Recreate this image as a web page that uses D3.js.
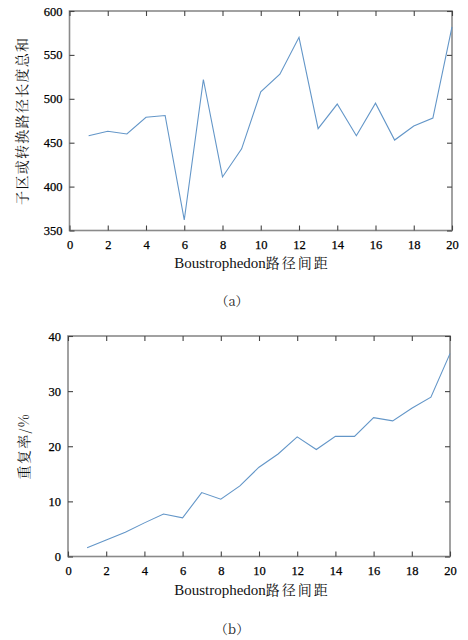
<!DOCTYPE html>
<html>
<head>
<meta charset="utf-8">
<script src="https://cdn.jsdelivr.net/npm/d3@7"></script>
<style>
  html, body { margin: 0; padding: 0; background: #fff; }
  svg { display: block; }
</style>
</head>
<body>
<svg id="chart" width="468" height="640"></svg>
<script>
// Boustrophedon path spacing (x) shared by both panels
const spacing = [1, 2, 3, 4, 5, 6, 7, 8, 9, 10, 11, 12, 13, 14, 15, 16, 17, 18, 19, 20];
// Panel (a): total length of sub-region / transition paths
const totalLength = [458, 463, 460, 479, 481, 362, 522, 411, 443, 508, 528, 570, 466, 494, 458, 495, 453, 469, 478, 582];
// Panel (b): repetition rate, %
const repeatRate = [1.6, 3.0, 4.4, 6.1, 7.7, 7.0, 11.6, 10.4, 12.8, 16.2, 18.6, 21.7, 19.4, 21.8, 21.8, 25.2, 24.6, 26.9, 28.9, 36.8];

const xTicks = [0, 2, 4, 6, 8, 10, 12, 14, 16, 18, 20];
const yTicksA = [350, 400, 450, 500, 550, 600];
const yTicksB = [0, 10, 20, 30, 40];

const xTitleLatin = "Boustrophedon";
const xTitleCjk = "路径间距";
const yTitleA = "子区或转换路径长度总和";
const yTitleB = "重复率/%";
const captions = ["（a）", "（b）"];

const svg = d3.select("#chart");
const numFont = '"Liberation Serif"';
const latinFont = '"Liberation Serif"';
const cjkFont = '"Noto Serif CJK SC"';
const lineColor = "#6396c8";
const frameColor = "#8a8a8a";
const tickColor = "#444";

function panel(opts) {
  const { left, right, top, bottom, values, yDomain, yTicks, yTitle, yTitleX, caption, captionY, titleY } = opts;
  const x = d3.scaleLinear().domain([0, 20]).range([left, right]);
  const y = d3.scaleLinear().domain(yDomain).range([bottom, top]);
  const g = svg.append("g");

  // inward ticks on all four sides
  const tick = 5;
  const axB = d3.axisBottom(x).tickValues(xTicks).tickSizeInner(-tick).tickSizeOuter(0).tickPadding(10).tickFormat(d => d);
  const axT = d3.axisTop(x).tickValues(xTicks).tickSizeInner(-tick).tickSizeOuter(0).tickFormat("");
  const axL = d3.axisLeft(y).tickValues(yTicks).tickSizeInner(-tick).tickSizeOuter(0).tickPadding(7).tickFormat(d => d);
  const axR = d3.axisRight(y).tickValues(yTicks).tickSizeInner(-tick).tickSizeOuter(0).tickFormat("");

  const style = sel => {
    sel.attr("font-family", null).attr("font-size", null);
    sel.select(".domain").remove();
    sel.selectAll(".tick line").attr("stroke", tickColor).attr("stroke-width", 1.1);
    sel.selectAll(".tick text")
      .attr("fill", "#000")
      .attr("stroke", "#000").attr("stroke-width", 0.25)
      .style("font-family", numFont).style("font-size", "12.5px");
  };

  // frame
  g.append("rect")
    .attr("x", left).attr("y", top)
    .attr("width", right - left).attr("height", bottom - top)
    .attr("fill", "none").attr("stroke", frameColor).attr("stroke-width", 1.6);

  g.append("g").attr("transform", `translate(0,${bottom})`).call(axB).call(style);
  g.append("g").attr("transform", `translate(0,${top})`).call(axT).call(style);
  g.append("g").attr("transform", `translate(${left},0)`).call(axL).call(style);
  g.append("g").attr("transform", `translate(${right},0)`).call(axR).call(style);

  // data line
  const line = d3.line().x((d, i) => x(spacing[i])).y(d => y(d));
  g.append("path")
    .datum(values)
    .attr("d", line)
    .attr("fill", "none")
    .attr("stroke", lineColor)
    .attr("stroke-width", 1.1);

  // x title: latin word + CJK part
  const xt = g.append("text")
    .attr("x", 252).attr("y", titleY)
    .attr("text-anchor", "middle")
    .attr("fill", "#111");
  xt.append("tspan").style("font-family", latinFont).style("font-size", "15px").text(xTitleLatin);
  xt.append("tspan").style("font-family", cjkFont).style("font-size", "14px").style("letter-spacing", "2px").text(xTitleCjk);

  // y title (rotated)
  g.append("text")
    .attr("transform", `translate(${yTitleX},${(top + bottom) / 2}) rotate(-90)`)
    .attr("text-anchor", "middle")
    .style("font-family", cjkFont).style("font-size", "14px").style("letter-spacing", "1.3px")
    .attr("fill", "#111")
    .text(yTitle);

  // caption
  g.append("text")
    .attr("x", 232).attr("y", captionY)
    .attr("text-anchor", "middle")
    .style("font-family", cjkFont).style("font-size", "13px").attr("fill", "#222")
    .text(caption);
}

panel({
  left: 69.5, right: 452, top: 11, bottom: 230.5,
  values: totalLength, yDomain: [350, 600], yTicks: yTicksA,
  yTitle: yTitleA, yTitleX: 27, caption: captions[0], captionY: 306, titleY: 268
});

panel({
  left: 68, right: 450, top: 336, bottom: 556.5,
  values: repeatRate, yDomain: [0, 40], yTicks: yTicksB,
  yTitle: yTitleB, yTitleX: 29, caption: captions[1], captionY: 634, titleY: 595
});
</script>
</body>
</html>
